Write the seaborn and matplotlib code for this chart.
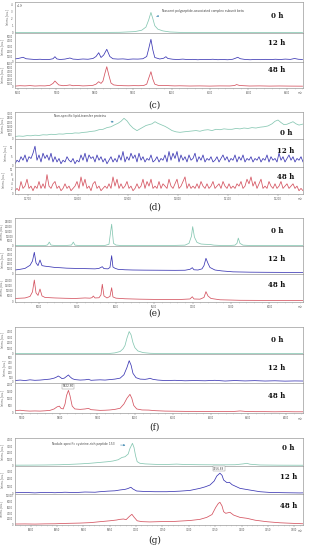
import numpy as np
import matplotlib
matplotlib.use("Agg")
import matplotlib.pyplot as plt
import seaborn as sns

sns.set_style("white")
plt.rcParams['font.family'] = ['DejaVu Sans']

# ---------------- data ----------------
# panel (c)
c_x0 = [5592, 5709, 5813, 5865, 5904, 5922, 5933, 5940, 5946, 5951, 5956, 5964, 5977, 5995, 6021, 6125, 6341]
c_y0 = [0.02, 0.02, 0.03, 0.05, 0.15, 0.35, 0.8, 1.8, 2.9, 2.0, 1.0, 0.5, 0.25, 0.1, 0.04, 0.02, 0.02]
c_x12 = [5592, 5600, 5613, 5621, 5631, 5644, 5657, 5670, 5683, 5691, 5696, 5701, 5709, 5722, 5735, 5743, 5756, 5769, 5782, 5795,
         5803, 5810, 5816, 5823, 5831, 5839, 5847, 5860, 5873, 5886, 5899, 5912, 5925, 5935, 5940, 5946, 5951, 5956, 5969, 5979,
         5985, 5990, 6003, 6016, 6029, 6042, 6055, 6068, 6081, 6094, 6107, 6120, 6133, 6146, 6159, 6166, 6172, 6179, 6192, 6205,
         6218, 6231, 6244, 6257, 6270, 6283, 6296, 6309, 6320, 6330, 6341]
c_y12 = [420, 500, 740, 450, 380, 300, 350, 280, 330, 450, 860, 420, 300, 380, 600, 380, 320, 400, 350, 500,
         900, 1660, 700, 1200, 2340, 900, 450, 380, 420, 330, 400, 380, 450, 900, 2400, 4340, 2200, 700, 400, 550,
         860, 500, 350, 300, 380, 280, 330, 250, 320, 280, 350, 260, 300, 250, 350, 550, 740, 450, 300, 250,
         320, 270, 330, 280, 350, 300, 380, 320, 500, 350, 300]
c_x48 = [5592, 5605, 5618, 5631, 5644, 5657, 5670, 5683, 5691, 5696, 5701, 5706, 5717, 5727, 5735, 5743, 5756, 5769, 5782, 5795,
         5803, 5810, 5816, 5821, 5826, 5831, 5836, 5842, 5849, 5862, 5875, 5888, 5901, 5914, 5927, 5935, 5940, 5946, 5951, 5956,
         5966, 5982, 5995, 6008, 6021, 6047, 6073, 6099, 6125, 6151, 6164, 6169, 6177, 6203, 6229, 6255, 6281, 6307, 6341]
c_y48 = [200, 300, 250, 330, 220, 280, 250, 400, 900, 1530, 1000, 500, 300, 380, 500, 300, 350, 250, 300, 400,
         700, 1350, 900, 1500, 3500, 5270, 3200, 1000, 500, 350, 300, 280, 320, 300, 350, 700, 2200, 3960, 2000, 700,
         350, 380, 300, 250, 280, 220, 250, 200, 250, 230, 350, 600, 350, 220, 250, 200, 230, 200, 180]

# panel (d)
d_x0 = [11674, 11682, 11690, 11698, 11706, 11714, 11722, 11730, 11738, 11746, 11754, 11762, 11770, 11778, 11786, 11794,
        11802, 11810, 11818, 11826, 11834, 11842, 11850, 11858, 11866, 11874, 11880, 11886, 11892, 11898, 11904, 11910,
        11918, 11924, 11930, 11936, 11942, 11948, 11954, 11960, 11966, 11974, 11980, 11988, 11996, 12004, 12012, 12020,
        12028, 12036, 12044, 12052, 12060, 12068, 12076, 12084, 12092, 12100, 12108, 12116, 12124, 12132, 12140, 12148,
        12156, 12164, 12172, 12180, 12188, 12194, 12200, 12206, 12212, 12218, 12224, 12230, 12236, 12242, 12250]
d_y0 = [300, 355, 320, 400, 380, 450, 420, 500, 480, 560, 530, 600, 580, 650, 640, 720,
        700, 780, 820, 900, 950, 1100, 1150, 1350, 1450, 1700, 1860, 2100, 2450, 2150, 1660, 1300,
        990, 1200, 1400, 1600, 1700, 1800, 2050, 1850, 1700, 1500, 1300, 1000, 850, 790, 850, 900,
        950, 1000, 920, 1050, 1100, 1000, 1150, 1100, 1200, 1150, 1150, 1250, 1200, 1300, 1250, 1350,
        1300, 1400, 1450, 1550, 1800, 2100, 2250, 1950, 1700, 1750, 1900, 2050, 1800, 1650, 1770]
d_y12 = [1, 3, 2, 5, 3, 6, 2, 5, 4, 7,
         11, 3, 6, 2, 7, 4, 6, 3, 7, 2,
         5, 2, 4, 1, 3, 2, 5, 3, 2, 4,
         1, 3, 2, 6, 3, 7, 2, 6, 4, 5,
         2, 6, 3, 5, 2, 4, 1, 3, 5, 2,
         4, 2, 6, 3, 8, 2, 5, 3, 7, 4,
         6, 2, 7, 3, 5, 2, 4, 3, 6, 2,
         3, 5, 2, 4, 3, 6, 2, 8, 3, 7,
         4, 8, 2, 6, 3, 5, 2, 6, 3, 4,
         7, 2, 5, 3, 6, 2, 4, 3, 5, 2,
         3, 5, 2, 4, 6, 3, 5, 2, 4, 3,
         6, 2, 5, 3, 6, 2, 4, 3, 5, 2,
         4, 3, 5, 2, 4, 3, 6, 2, 5, 3,
         4, 2, 7, 3, 5, 2, 4, 6, 3, 5,
         2, 4, 3, 5, 2]
d_y48 = [1, 2, 1, 5, 2, 3, 6, 2, 3, 1,
         3, 2, 5, 2, 4, 2, 8, 3, 2, 4,
         5, 2, 3, 1, 2, 4, 2, 3, 1, 2,
         3, 5, 2, 7, 3, 6, 2, 3, 1, 4,
         5, 2, 3, 1, 2, 3, 2, 4, 2, 7,
         3, 6, 2, 4, 2, 3, 5, 2, 3, 1,
         2, 4, 2, 3, 6, 2, 5, 3, 6, 2,
         3, 2, 5, 2, 4, 3, 2, 6, 3, 2,
         4, 6, 2, 3, 5, 7, 2, 4, 2, 3,
         2, 4, 2, 5, 3, 2, 4, 2, 3, 5,
         2, 3, 4, 2, 5, 3, 2, 4, 2, 3,
         2, 4, 3, 5, 2, 3, 6, 4, 7, 3,
         5, 2, 4, 6, 2, 3, 2, 5, 3, 2,
         4, 2, 3, 5, 2, 3, 4, 2, 3, 4,
         2, 3, 1, 2, 1]
d_x_noise = np.linspace(11674, 12250, len(d_y12))

# panel (e)
e_x0 = [4688, 4883, 5078, 5111, 5134, 5156, 5208, 5338, 5423, 5447, 5469, 5534, 5729, 5859, 5911, 5946, 5970, 6002,
        6055, 6315, 6706, 6901, 6953, 6985, 7001, 7024, 7057, 7109, 7161, 7226, 7278, 7357, 7487, 7552, 7578, 7595,
        7617, 7656, 7747, 8008, 8437]
e_y0 = [200, 150, 200, 800, 3800, 700, 200, 150, 700, 3800, 600, 150, 200, 300, 1500, 22600, 2500, 700,
        300, 200, 200, 600, 2500, 10000, 20100, 9000, 3500, 1800, 1500, 1300, 600, 300, 250, 600, 2500, 8000,
        2500, 600, 250, 200, 200]
e_x12 = [4688, 4753, 4818, 4883, 4915, 4939, 4961, 4987, 5013, 5039, 5078, 5143, 5208, 5273, 5360, 5469, 5599, 5729,
         5781, 5824, 5846, 5898, 5924, 5946, 5963, 5990, 6029, 6120, 6224, 6380, 6575, 6771, 6901, 6966, 6996, 7018,
         7070, 7122, 7148, 7174, 7200, 7226, 7291, 7382, 7526, 7747, 7969, 8203, 8437]
e_y12 = [650, 800, 1000, 1670, 2600, 4490, 2200, 1600, 2820, 1600, 1480, 1350, 1200, 1150, 1050, 1000, 950, 900,
         1000, 1370, 950, 900, 1200, 3760, 1300, 1020, 800, 700, 650, 620, 600, 580, 600, 800, 1150, 700,
         650, 900, 1600, 3190, 2100, 1200, 650, 450, 250, 180, 150, 130, 120]
e_x48 = [4688, 4818, 4883, 4915, 4939, 4961, 4987, 5013, 5039, 5078, 5208, 5338, 5469, 5599, 5664, 5690, 5707, 5729,
         5781, 5807, 5824, 5846, 5885, 5924, 5946, 5963, 6002, 6120, 6315, 6575, 6836, 6966, 6996, 7018, 7096, 7148,
         7174, 7200, 7239, 7356, 7617, 7877, 8138, 8437]
e_y48 = [2500, 3000, 4500, 9000, 20700, 8000, 5500, 11800, 5000, 3500, 3000, 2700, 2500, 3000, 2800, 3300, 4900, 3000,
         3200, 6000, 16500, 5000, 3000, 4500, 13100, 4000, 2800, 2200, 1800, 1500, 1500, 2000, 4200, 2000, 1800, 3500,
         9200, 5000, 2500, 1200, 700, 600, 500, 450]

# panel (f)
f_x0 = [5681, 5801, 5907, 5933, 5946, 5960, 5968, 5973, 5978, 5984, 5989, 5994, 5999, 6007, 6021, 6039, 6066, 6445]
f_y0 = [20, 20, 30, 60, 150, 400, 900, 1500, 2800, 4000, 3400, 2000, 1100, 500, 200, 80, 30, 20]
f_x12 = [5681, 5695, 5708, 5721, 5734, 5748, 5761, 5774, 5785, 5791, 5796, 5801, 5806, 5812, 5817, 5823, 5827, 5833,
         5840, 5854, 5867, 5876, 5883, 5893, 5907, 5920, 5933, 5946, 5960, 5970, 5978, 5984, 5989, 5994, 6002, 6013,
         6026, 6034, 6039, 6047, 6060, 6079, 6105, 6132, 6158, 6185, 6211, 6238, 6264, 6291, 6317, 6344, 6370, 6397,
         6423, 6445]
f_y12 = [30, 40, 30, 45, 35, 40, 50, 60, 80, 100, 125, 100, 70, 80, 110, 146, 110, 70,
         50, 40, 45, 56, 35, 40, 45, 40, 50, 60, 80, 150, 300, 443, 350, 180, 90, 60,
         55, 65, 77, 55, 40, 30, 35, 25, 30, 25, 35, 20, 30, 22, 28, 20, 25, 18,
         22, 20]
f_x48 = [5681, 5695, 5708, 5721, 5734, 5748, 5761, 5774, 5785, 5793, 5799, 5803, 5809, 5814, 5818, 5823, 5827, 5833,
         5840, 5854, 5867, 5876, 5883, 5893, 5907, 5920, 5933, 5946, 5960, 5970, 5978, 5986, 5991, 5996, 6004, 6018,
         6036, 6052, 6079, 6105, 6132, 6158, 6185, 6211, 6238, 6264, 6278, 6291, 6317, 6344, 6370, 6397, 6423, 6445]
f_y48 = [130, 160, 120, 100, 110, 100, 120, 150, 250, 400, 450, 300, 250, 600, 1200, 1560, 1200, 450,
         250, 220, 250, 290, 200, 180, 150, 160, 180, 220, 300, 600, 1000, 1280, 1000, 500, 250, 180,
         170, 130, 100, 90, 80, 80, 70, 80, 70, 80, 110, 80, 60, 60, 50, 60, 50, 50]

# panel (g)
g_x0 = [6770, 6799, 6827, 6856, 6875, 6894, 6913, 6931, 6947, 6956, 6966, 6973, 6979, 6985, 6988, 6993, 6996, 6999,
        7002, 7007, 7017, 7036, 7055, 7077, 7093, 7121, 7159, 7188, 7203, 7210, 7216, 7235, 7273, 7317]
g_y0 = [50, 60, 80, 120, 180, 250, 350, 480, 600, 700, 900, 1250, 1370, 1800, 2600, 3460, 2800, 1500,
        600, 350, 250, 180, 150, 220, 150, 120, 100, 120, 250, 340, 200, 80, 50, 40]
g_x12 = [6770, 6789, 6808, 6827, 6846, 6865, 6884, 6903, 6922, 6931, 6946, 6960, 6969, 6979, 6984, 6990, 6994, 7001,
         7017, 7036, 7058, 7083, 7102, 7121, 7131, 7140, 7148, 7153, 7159, 7163, 7166, 7172, 7177, 7182, 7197, 7216,
         7235, 7254, 7282, 7311, 7317]
g_y12 = [80, 120, 60, 130, 80, 150, 100, 180, 150, 220, 300, 350, 460, 550, 650, 840, 600, 320,
         250, 220, 220, 300, 400, 690, 900, 1150, 1700, 2400, 2800, 2500, 1850, 1500, 1530, 1200, 690, 450,
         220, 120, 80, 50, 60]
g_x48 = [6770, 6789, 6808, 6827, 6846, 6868, 6893, 6913, 6931, 6950, 6963, 6969, 6976, 6981, 6987, 6992, 6996, 7002,
         7011, 7026, 7045, 7074, 7102, 7121, 7134, 7144, 7151, 7156, 7159, 7163, 7166, 7170, 7178, 7185, 7197, 7210,
         7226, 7248, 7273, 7311, 7317]
g_y48 = [170, 200, 150, 220, 250, 400, 500, 650, 980, 1300, 1580, 1800, 1930, 1700, 2800, 3580, 2600, 1300,
         1000, 900, 1000, 1100, 1400, 1800, 2500, 3500, 6000, 7400, 7790, 6500, 4500, 3930, 4280, 3300, 2500, 2180,
         1500, 980, 600, 300, 250]

row_names = ["0 h", "12 h", "48 h"]
panel_letters = ["(c)", "(d)", "(e)", "(f)", "(g)"]

# ---------------- layout ----------------
W, H = 309, 550
fig = plt.figure(figsize=(W / 100, H / 100), dpi=100)

GREEN, BLUE, RED = "#86c7b2", "#3a36b3", "#d4525f"
colors = [GREEN, BLUE, RED]

panels = [
    dict(rows=[(2, 33), (33, 62), (62, 88)], xlim=(5592, 6342), xt=np.arange(5600, 6301, 100),
         series=[(c_x0, c_y0), (c_x12, c_y12), (c_x48, c_y48)],
         ylims=[(-0.05, 4.4), (-200, 5600), (-300, 6500)],
         yts=[np.arange(0, 5, 1), np.arange(0, 5001, 1000), np.arange(0, 6001, 1000)],
         lab=[(0.91, 0.55), (0.91, 0.64), (0.91, 0.69)], cap=105),
    dict(rows=[(112, 139), (139, 167), (167, 194)], xlim=(11674, 12250), xt=np.arange(11700, 12201, 100),
         series=[(d_x0, d_y0), (d_x_noise, d_y12), (d_x_noise, d_y48)],
         ylims=[(0, 3200), (-0.86, 15.1), (-0.43, 11.3)],
         yts=[np.arange(0, 3001, 500), np.arange(0, 11, 5), np.arange(0, 11, 2)],
         lab=[(0.94, 0.22), (0.94, 0.58), (0.94, 0.62)], cap=207),
    dict(rows=[(218, 246), (246, 274), (274, 302)], xlim=(4687.5, 8437.5), xt=np.arange(5000, 8001, 500),
         series=[(e_x0, e_y0), (e_x12, e_y12), (e_x48, e_y48)],
         ylims=[(-300, 29170), (-217, 5860), (-986, 26630)],
         yts=[np.arange(0, 25001, 5000), np.arange(0, 5001, 1000), np.arange(0, 20001, 5000)],
         lab=[(0.91, 0.54), (0.91, 0.54), (0.91, 0.61)], cap=313),
    dict(rows=[(327, 354), (354, 383), (383, 413)], xlim=(5681.4, 6444.6), xt=np.arange(5700, 6401, 100),
         series=[(f_x0, f_y0), (f_x12, f_y12), (f_x48, f_y48)],
         ylims=[(-50, 4820), (-21, 582), (-35, 2080)],
         yts=[np.arange(0, 4001, 1000), np.arange(0, 501, 100), np.arange(0, 2001, 500)],
         lab=[(0.91, 0.52), (0.91, 0.51), (0.91, 0.57)], cap=427),
    dict(rows=[(438, 466), (466, 494), (494, 525)], xlim=(6770.2, 7316.6), xt=np.arange(6800, 7301, 50),
         series=[(g_x0, g_y0), (g_x12, g_y12), (g_x48, g_y48)],
         ylims=[(-78, 4290), (-97, 3800), (-175, 10700)],
         yts=[np.arange(0, 4001, 1000), np.arange(0, 3001, 1000), np.arange(0, 10001, 2000)],
         lab=[(0.95, 0.63), (0.95, 0.61), (0.95, 0.61)], cap=540),
]

L, R = 15, 303
axes_all = []
for pi, p in enumerate(panels):
    axs = []
    for ri, (top, bot) in enumerate(p["rows"]):
        ax = fig.add_axes([L / W, 1 - bot / H, (R - L) / W, (bot - top) / H])
        xs, ys = p["series"][ri]
        sns.lineplot(x=np.asarray(xs, float), y=np.asarray(ys, float), ax=ax, color=colors[ri],
                     lw=0.55, estimator=None, legend=False)
        ax.set_xlim(*p["xlim"])
        ax.set_ylim(*p["ylims"][ri])
        ax.set_yticks(p["yts"][ri])
        ax.set_yticklabels([str(int(v)) for v in p["yts"][ri]], fontsize=1.8, color="#555555")
        ax.tick_params(axis="y", length=1.0, width=0.3, pad=0.5, colors="#777777", labelcolor="#555555")
        ax.set_xticks(p["xt"])
        if ri < 2:
            ax.tick_params(axis="x", bottom=False, labelbottom=False)
        else:
            ax.set_xticklabels([str(int(v)) for v in p["xt"]], fontsize=1.8, color="#555555")
            ax.tick_params(axis="x", bottom=True, length=1.2, width=0.3, pad=0.8, colors="#777777",
                           labelcolor="#555555")
            ax.minorticks_on()
            ax.tick_params(axis="x", which="minor", bottom=True, length=0.6, width=0.25, colors="#888888")
            ax.tick_params(axis="y", which="minor", left=False)
            ax.text(1.0, -0.12, "m/z", transform=ax.transAxes, fontsize=1.8, color="#555555",
                    ha="right", va="top")
        ax.set_xlabel("")
        ax.set_ylabel("Intens. [a.u.]", fontsize=1.8, color="#555555", labelpad=1.5)
        for s in ax.spines.values():
            s.set_color("#9a9a9a")
            s.set_linewidth(0.5)
        ax.set_facecolor("white")
        lx, ly = p["lab"][ri]
        ax.text(lx, ly, row_names[ri], transform=ax.transAxes, ha="center", va="center",
                fontsize=5, fontweight="bold", family="DejaVu Serif", color="#111111")
        axs.append(ax)
    axes_all.append(axs)
    fig.text(0.5, 1 - p["cap"] / H, panel_letters[pi], ha="center", va="center",
             fontsize=6.5, family="DejaVu Serif", color="#222222")

# exponent on (c) 0h
axes_all[0][0].text(0.003, 1.0, "x10$^4$", transform=axes_all[0][0].transAxes, fontsize=1.8,
                    color="#555555", ha="left", va="top")

# annotations
ann_kw = dict(fontsize=2.2, color="#444444", ha="left", va="center")
arr = dict(arrowstyle="-|>", color="#4a8fb5", lw=0.4, mutation_scale=2.5)
axes_all[0][0].annotate("Nascent polypeptide-associated complex subunit beta", xy=(5953, 2.3),
                        xytext=(5976, 3.1), arrowprops=arr, **ann_kw)
axes_all[1][0].annotate("Non-specific lipid-transfer proteins", xy=(11877, 1950),
                        xytext=(11752, 2760), arrowprops=arr, **ann_kw)
axes_all[4][0].annotate("Nodule-specific cysteine-rich peptide 153", xy=(6985, 3150),
                        xytext=(6840, 3400), arrowprops=arr, **ann_kw)

box = dict(boxstyle="square,pad=0.2", fc="white", ec="#888888", lw=0.3)
axes_all[3][2].text(5822, 1840, "5822.60", fontsize=2.0, color="#444444", ha="center", va="center", bbox=box)
axes_all[4][1].text(7157, 3450, "7156.88", fontsize=2.0, color="#444444", ha="center", va="center", bbox=box)

fig.savefig("out.png", dpi=100, facecolor="white")
